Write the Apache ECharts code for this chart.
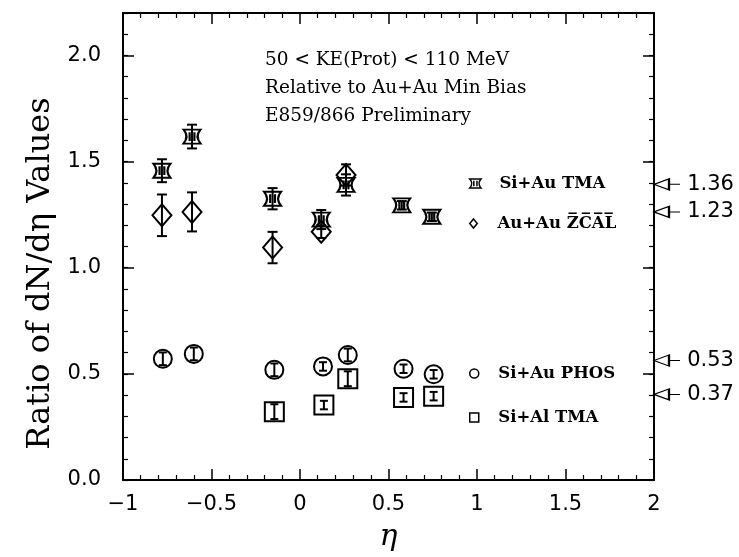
<!DOCTYPE html>
<html>
<head>
<meta charset="utf-8">
<script src="https://cdn.jsdelivr.net/npm/echarts@6/dist/echarts.min.js"></script>
<style>html,body{margin:0;padding:0;background:#fff}#c{width:739px;height:557px}</style>
</head>
<body>
<div id="c"></div>
<script>
// ---- data ----
const etaSiAuTMA = [-0.78, -0.61, -0.155, 0.12, 0.26, 0.575, 0.745];
const siAuTMA    = [1.457, 1.618, 1.325, 1.227, 1.39, 1.294, 1.24];
const siAuTMAErr = [0.054, 0.056, 0.05, 0.045, 0.05, 0.02, 0.02];

const etaAuAuZCAL = [-0.78, -0.61, -0.155, 0.12, 0.26];
const auAuZCAL    = [1.247, 1.263, 1.095, 1.17, 1.437];
const auAuZCALErr = [0.098, 0.092, 0.074, 0.03, 0.05];

const etaSiAuPHOS = [-0.775, -0.6, -0.145, 0.13, 0.27, 0.585, 0.755];
const siAuPHOS    = [0.571, 0.594, 0.519, 0.535, 0.589, 0.524, 0.498];
const siAuPHOSErr = [0.03, 0.03, 0.03, 0.02, 0.03, 0.02, 0.02];

const etaSiAlTMA = [-0.145, 0.135, 0.27, 0.585, 0.755];
const siAlTMA    = [0.322, 0.353, 0.477, 0.389, 0.395];
const siAlTMAErr = [0.035, 0.02, 0.035, 0.02, 0.02];

const arrowValues = [1.36, 1.23, 0.53, 0.37];
const seriesNames = ['Si+Au TMA', 'Au+Au Z\u0305C\u0305A\u0305L\u0305', 'Si+Au PHOS', 'Si+Al TMA'];
const annotationLines = ['50 < KE(Prot) < 110 MeV', 'Relative to Au+Au Min Bias', 'E859/866 Preliminary'];
const yTitle = 'Ratio of dN/d\u03b7 Values';
const xTitle = '\u03b7';

// ---- styling ----
const BLACK = '#000';
const symTMA = 'path://M0,0 L10,0 Q6.5,4 10,8 L0,8 Q3.5,4 0,0 Z M3.6,1.5 L3.6,6.5 M6.4,1.5 L6.4,6.5';
const symDiamond = 'path://M5,0 L10,6 L5,12 L0,6 Z';
const symSquare = 'path://M0,0 L10,0 L10,10 L0,10 Z';
const symArrow = 'path://M0,5 L15,0 L15,10 Z M15,5 L26,5';

const pts = (xs, ys) => xs.map((x, i) => [x, ys[i]]);
const errPts = (xs, ys, es) => xs.map((x, i) => [x, ys[i], es[i]]);

function errSeries(xs, ys, es, cap, lw) {
  return {
    type: 'custom', silent: true, z: 5,
    data: errPts(xs, ys, es),
    encode: { x: 0, y: 1 },
    renderItem: function (params, api) {
      const x = api.value(0), y = api.value(1), e = api.value(2);
      const lo = api.coord([x, y - e]), hi = api.coord([x, y + e]);
      const st = { stroke: BLACK, lineWidth: lw };
      return { type: 'group', children: [
        { type: 'line', shape: { x1: lo[0], y1: lo[1], x2: hi[0], y2: hi[1] }, style: st },
        { type: 'line', shape: { x1: lo[0] - cap, y1: lo[1], x2: lo[0] + cap, y2: lo[1] }, style: st },
        { type: 'line', shape: { x1: hi[0] - cap, y1: hi[1], x2: hi[0] + cap, y2: hi[1] }, style: st }
      ]};
    }
  };
}

function markerSeries(name, xs, ys, symbol, size) {
  return {
    type: 'scatter', name: name, data: pts(xs, ys), symbol: symbol, symbolSize: size,
    itemStyle: { color: 'rgba(0,0,0,0)', borderColor: BLACK, borderWidth: 2, opacity: 1 },
    z: 4, silent: true
  };
}

const tickFont = { fontFamily: 'DejaVu Sans', fontSize: 21, color: BLACK };
const legendText = { fontFamily: 'DejaVu Serif', fontWeight: 'bold', fontSize: 16.5, color: BLACK };

function legendAt(name, top) {
  return {
    data: [name], left: 464, top: top, orient: 'vertical',
    itemWidth: 38, itemHeight: 9, selectedMode: false,
    textStyle: legendText,
    itemStyle: { borderWidth: 1.5, opacity: 1 }
  };
}

const axisLineStyle = { show: true, onZero: false, lineStyle: { color: BLACK, width: 2 } };
const noLine = { show: false, onZero: false };

const chart = echarts.init(document.getElementById('c'), null, { renderer: 'canvas' });
chart.setOption({
  animation: false,
  backgroundColor: '#fff',
  grid: { left: 123, right: 85, top: 13, bottom: 73 },
  legend: [
    legendAt(seriesNames[0], 170),
    legendAt(seriesNames[1], 210),
    legendAt(seriesNames[2], 360),
    legendAt(seriesNames[3], 404)
  ],
  xAxis: [
    {
      type: 'value', position: 'bottom', min: -1, max: 2, interval: 0.5,
      axisLine: axisLineStyle,
      axisTick: { inside: true, length: 11, lineStyle: { color: BLACK, width: 1.5 } },
      minorTick: { show: true, splitNumber: 5, length: 5, lineStyle: { color: BLACK, width: 1.2 } },
      axisLabel: Object.assign({ margin: 14, formatter: v => String(v).replace('-', '\u2212') }, tickFont),
      splitLine: { show: false }, minorSplitLine: { show: false },
      name: xTitle, nameLocation: 'middle', nameGap: 42,
      nameTextStyle: { fontFamily: 'DejaVu Serif', fontStyle: 'italic', fontSize: 30, color: BLACK }
    },
    {
      type: 'value', position: 'top', min: -1, max: 2, interval: 0.5,
      axisLine: axisLineStyle,
      axisTick: { inside: true, length: 11, lineStyle: { color: BLACK, width: 1.5 } },
      minorTick: { show: true, splitNumber: 5, length: 5, lineStyle: { color: BLACK, width: 1.2 } },
      axisLabel: { show: false }, splitLine: { show: false }
    }
  ],
  yAxis: [
    {
      type: 'value', position: 'left', min: 0, max: 2.2, interval: 0.5,
      axisLine: axisLineStyle,
      axisTick: { inside: true, length: 11, lineStyle: { color: BLACK, width: 1.5 } },
      axisLabel: Object.assign({ margin: 22, showMaxLabel: false, formatter: v => v.toFixed(1) }, tickFont),
      splitLine: { show: false },
      name: yTitle, nameLocation: 'middle', nameGap: 60,
      nameTextStyle: { fontFamily: 'DejaVu Serif', fontSize: 32, color: BLACK, padding: [0, 54, 0, 0] }
    },
    {
      type: 'value', position: 'left', min: 0, max: 2.2, interval: 0.1,
      axisLine: noLine,
      axisTick: { inside: true, length: 5, lineStyle: { color: BLACK, width: 1.2 } },
      axisLabel: { show: false }, splitLine: { show: false }
    },
    {
      type: 'value', position: 'right', min: 0, max: 2.2, interval: 0.5,
      axisLine: axisLineStyle,
      axisTick: { inside: true, length: 11, lineStyle: { color: BLACK, width: 1.5 } },
      axisLabel: { show: false }, splitLine: { show: false }
    },
    {
      type: 'value', position: 'right', min: 0, max: 2.2, interval: 0.1,
      axisLine: noLine,
      axisTick: { inside: true, length: 5, lineStyle: { color: BLACK, width: 1.2 } },
      axisLabel: { show: false }, splitLine: { show: false }
    }
  ],
  graphic: annotationLines.map((t, i) => ({
    type: 'text', left: 265, top: 51 + i * 28, silent: true,
    style: { text: t, fontFamily: 'DejaVu Serif', fontSize: 18.5, fill: BLACK }
  })),
  series: [
    markerSeries(seriesNames[0], etaSiAuTMA, siAuTMA, symTMA, [17, 14]),
    errSeries(etaSiAuTMA, siAuTMA, siAuTMAErr, 5, 2),
    markerSeries(seriesNames[1], etaAuAuZCAL, auAuZCAL, symDiamond, [19, 22]),
    errSeries(etaAuAuZCAL, auAuZCAL, auAuZCALErr, 5, 2),
    markerSeries(seriesNames[2], etaSiAuPHOS, siAuPHOS, 'circle', 18),
    errSeries(etaSiAuPHOS, siAuPHOS, siAuPHOSErr, 4, 2),
    markerSeries(seriesNames[3], etaSiAlTMA, siAlTMA, symSquare, 19),
    errSeries(etaSiAlTMA, siAlTMA, siAlTMAErr, 4, 2),
    {
      type: 'scatter', silent: true, clip: false, z: 6,
      data: arrowValues.map(v => [2, v]),
      symbol: symArrow, symbolSize: [26, 11], symbolOffset: [13, -7],
      itemStyle: { color: 'rgba(0,0,0,0)', borderColor: BLACK, borderWidth: 1.5, opacity: 1 },
      label: { show: true, position: 'right', distance: 6, formatter: p => p.value[1].toFixed(2),
               fontFamily: 'DejaVu Sans', fontSize: 21, color: BLACK }
    }
  ]
});
</script>
</body>
</html>
